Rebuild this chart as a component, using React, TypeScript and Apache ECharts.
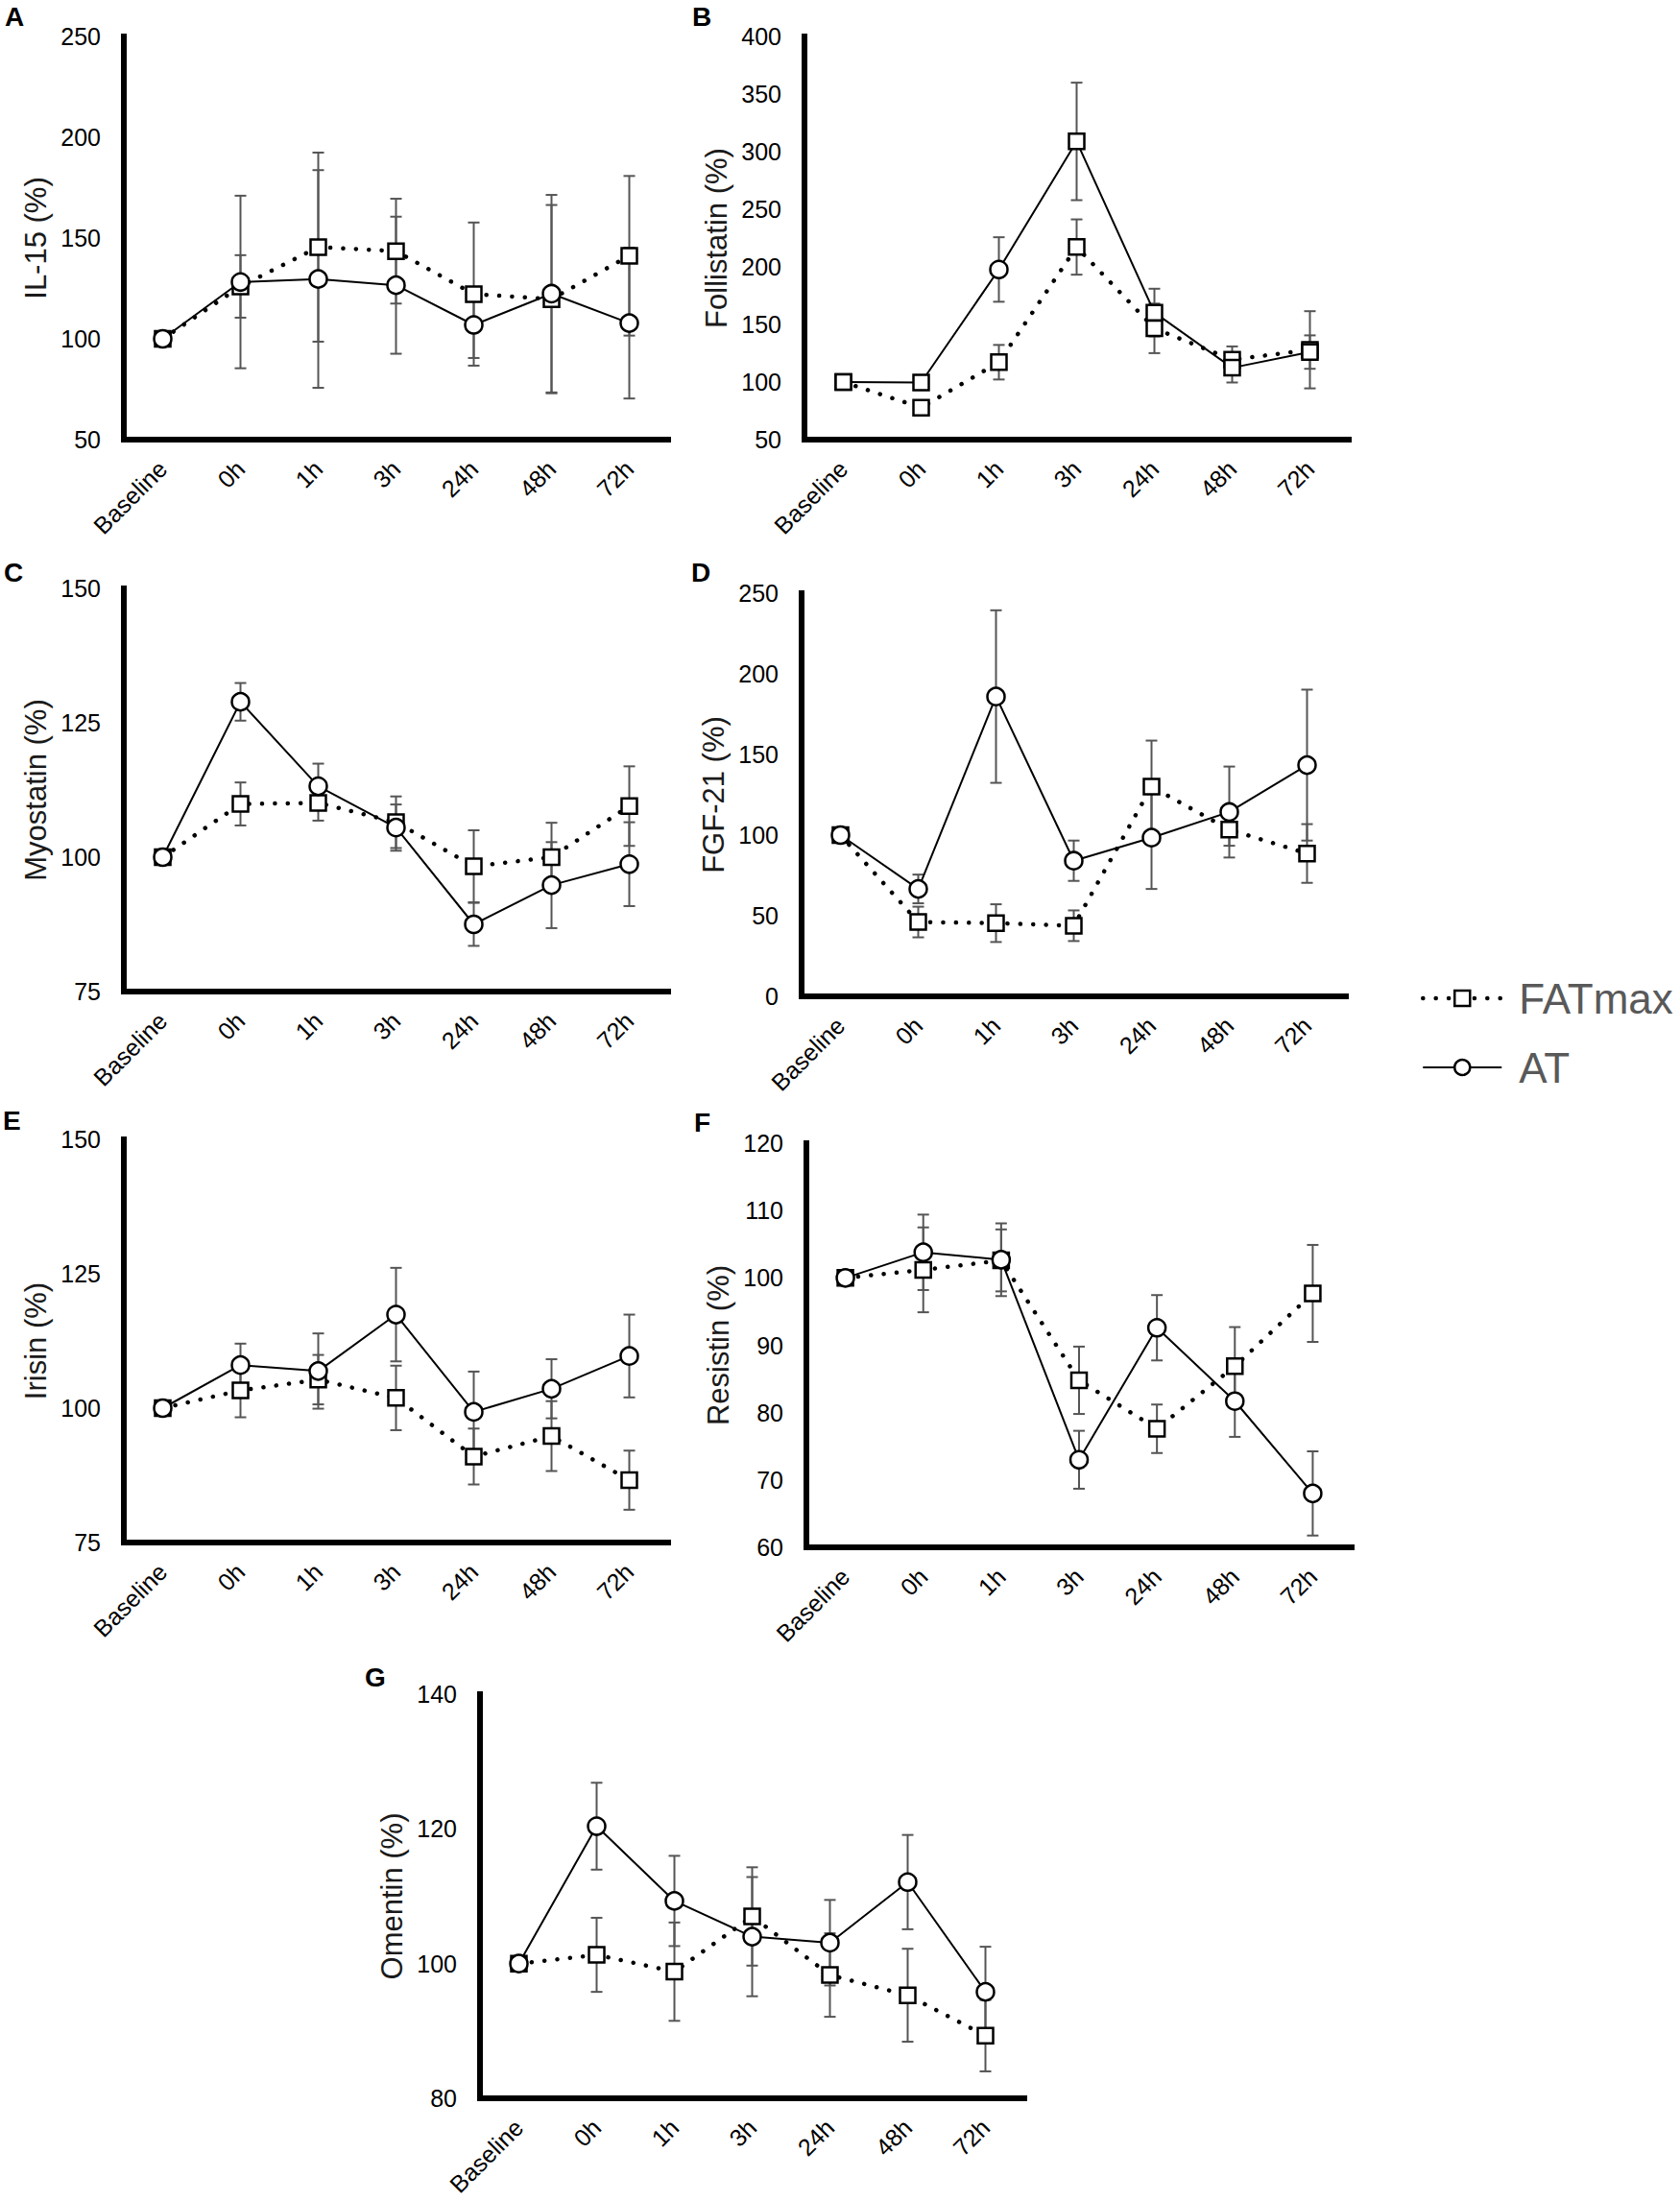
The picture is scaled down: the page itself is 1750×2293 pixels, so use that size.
import React, { useEffect, useRef } from 'react';
import * as echarts from 'echarts';

const categories = ['Baseline', '0h', '1h', '3h', '24h', '48h', '72h'];

// A: IL-15
const il15Fatmax = [100, 126, 145.5, 143.5, 122.2, 119.7, 141.2];
const il15FatmaxSd = [0, 15.5, 46.9, 26, 35.5, 46.7, 39.6];
const il15At = [100, 128.2, 129.7, 126.6, 106.9, 122.4, 107.8];
const il15AtSd = [0, 42.8, 54, 34, 16.4, 49, 37.4];

// B: Follistatin
const follFatmax = [100, 77.8, 117.2, 217.2, 146.6, 119.4, 128];
const follFatmaxSd = [0, 4, 15, 24, 21.5, 11.5, 33.5];
const follAt = [100, 99.6, 197.7, 308.9, 160.3, 112.4, 126];
const follAtSd = [0, 5, 28, 51, 20.7, 12.8, 14.5];
const follAtSymbols = ['rect', 'rect', 'circle', 'rect', 'rect', 'rect', 'rect'];

// C: Myostatin
const myoFatmax = [100, 109.9, 110.1, 106.5, 98.3, 100, 109.5];
const myoFatmaxSd = [0, 4, 3.3, 4.8, 6.7, 6.4, 7.4];
const myoAt = [100, 128.9, 113.2, 105.5, 87.5, 94.8, 98.7];
const myoAtSd = [0, 3.5, 4.2, 4.3, 4, 8, 7.8];

// D: FGF-21
const fgfFatmax = [100, 46.1, 45.4, 43.8, 130, 103.4, 88.6];
const fgfFatmaxSd = [0, 9.5, 11.7, 9.5, 28.6, 10, 18.2];
const fgfAt = [100, 66.6, 185.9, 84.1, 98.4, 114.3, 143.4];
const fgfAtSd = [0, 8.9, 53.5, 12.5, 31.8, 28.2, 46.8];

// E: Irisin
const irisinFatmax = [100, 103.3, 105.3, 101.9, 91, 94.8, 86.6];
const irisinFatmaxSd = [0, 5, 4.6, 6, 5.2, 6.5, 5.5];
const irisinAt = [100, 108, 106.9, 117.4, 99.3, 103.6, 109.7];
const irisinAtSd = [0, 4, 7, 8.7, 7.5, 5.5, 7.7];

// F: Resistin
const resFatmax = [100, 101.2, 102.6, 84.8, 77.6, 86.9, 97.7];
const resFatmaxSd = [0, 6.3, 4.6, 5, 3.6, 5.8, 7.2];
const resAt = [100, 103.8, 102.7, 73, 92.6, 81.7, 68];
const resAtSd = [0, 5.6, 5.4, 4.3, 4.85, 5.3, 6.25];

// G: Omentin
const omFatmax = [100, 101.3, 98.8, 107, 98.3, 95.3, 89.3];
const omFatmaxSd = [0, 5.5, 7.3, 7.3, 6.2, 6.9, 5.3];
const omAt = [100, 120.4, 109.3, 104, 103.1, 112.1, 95.8];
const omAtSd = [0, 6.45, 6.7, 8.85, 6.35, 7, 6.7];

const FONT = '"Liberation Sans", Arial, Helvetica, sans-serif';

type Panel = {
  letter: string;
  title: string;
  min: number;
  max: number;
  interval: number;
  fat: number[];
  fatSd: number[];
  at: number[];
  atSd: number[];
  atSymbols?: string[];
  left: number;
  top: number;
  width: number;
  height: number;
  lx: number;
  ly: number;
};

const panels: Panel[] = [
  { letter: 'A', title: 'IL-15 (%)', min: 50, max: 250, interval: 50, fat: il15Fatmax, fatSd: il15FatmaxSd, at: il15At, atSd: il15AtSd, left: 129, top: 38, width: 567, height: 420, lx: 5, ly: 3 },
  { letter: 'B', title: 'Follistatin (%)', min: 50, max: 400, interval: 50, fat: follFatmax, fatSd: follFatmaxSd, at: follAt, atSd: follAtSd, atSymbols: follAtSymbols, left: 838, top: 38, width: 567, height: 420, lx: 721, ly: 3 },
  { letter: 'C', title: 'Myostatin (%)', min: 75, max: 150, interval: 25, fat: myoFatmax, fatSd: myoFatmaxSd, at: myoAt, atSd: myoAtSd, left: 129, top: 613, width: 567, height: 420, lx: 4, ly: 582 },
  { letter: 'D', title: 'FGF-21 (%)', min: 0, max: 250, interval: 50, fat: fgfFatmax, fatSd: fgfFatmaxSd, at: fgfAt, atSd: fgfAtSd, left: 835, top: 618, width: 567, height: 420, lx: 720, ly: 582 },
  { letter: 'E', title: 'Irisin (%)', min: 75, max: 150, interval: 25, fat: irisinFatmax, fatSd: irisinFatmaxSd, at: irisinAt, atSd: irisinAtSd, left: 129, top: 1187, width: 567, height: 420, lx: 3, ly: 1153 },
  { letter: 'F', title: 'Resistin (%)', min: 60, max: 120, interval: 10, fat: resFatmax, fatSd: resFatmaxSd, at: resAt, atSd: resAtSd, left: 840, top: 1191, width: 568, height: 421, lx: 723, ly: 1155 },
  { letter: 'G', title: 'Omentin (%)', min: 80, max: 140, interval: 20, fat: omFatmax, fatSd: omFatmaxSd, at: omAt, atSd: omAtSd, left: 500, top: 1765, width: 567, height: 421, lx: 380, ly: 1733 },
];

const ERR_COLOR = '#555555';

function errRender(params: any, api: any) {
  const idx = api.value(0);
  const lo = api.coord([idx, api.value(1)]);
  const hi = api.coord([idx, api.value(2)]);
  const cw = 6;
  const style = { stroke: ERR_COLOR, lineWidth: 2 };
  return {
    type: 'group',
    children: [
      { type: 'line', shape: { x1: lo[0], y1: lo[1], x2: hi[0], y2: hi[1] }, style },
      { type: 'line', shape: { x1: lo[0] - cw, y1: lo[1], x2: lo[0] + cw, y2: lo[1] }, style },
      { type: 'line', shape: { x1: hi[0] - cw, y1: hi[1], x2: hi[0] + cw, y2: hi[1] }, style },
    ],
  };
}

function errData(mean: number[], sd: number[]) {
  const out: number[][] = [];
  mean.forEach((m, j) => {
    if (sd[j] > 0) out.push([j, m - sd[j], m + sd[j]]);
  });
  return out;
}

const DOT_LINE = { color: '#000', width: 4.5, type: [0.1, 13.3], cap: 'round' };
const SOLID_LINE = { color: '#000', width: 2, type: 'solid' };
const MARKER_STYLE = { color: '#fff', borderColor: '#000', borderWidth: 2.5 };
const AXIS_LINE = { show: true, lineStyle: { color: '#000', width: 6, cap: 'square' } };

function buildOption() {
  const grid: any[] = [];
  const xAxis: any[] = [];
  const yAxis: any[] = [];
  const series: any[] = [];
  const graphic: any[] = [];

  panels.forEach((p, i) => {
    grid.push({ left: p.left, top: p.top, width: p.width, height: p.height, containLabel: false });
    xAxis.push({
      type: 'category',
      gridIndex: i,
      data: categories,
      boundaryGap: true,
      axisLine: AXIS_LINE,
      axisTick: { show: false },
      splitLine: { show: false },
      axisLabel: { rotate: 45, interval: 0, fontSize: 25, color: '#000', fontFamily: FONT, margin: 26 },
    });
    yAxis.push({
      type: 'value',
      gridIndex: i,
      min: p.min,
      max: p.max,
      interval: p.interval,
      axisLine: AXIS_LINE,
      axisTick: { show: false },
      splitLine: { show: false },
      axisLabel: { fontSize: 25, color: '#000', fontFamily: FONT, margin: 24 },
      name: p.title,
      nameLocation: 'middle',
      nameGap: 76,
      nameTextStyle: { fontSize: 31, color: '#1a1a1a', fontFamily: FONT },
    });
    series.push({
      type: 'custom',
      name: 'FATmax SD',
      xAxisIndex: i,
      yAxisIndex: i,
      renderItem: errRender,
      encode: { x: 0, y: [1, 2] },
      data: errData(p.fat, p.fatSd),
      z: 1,
      silent: true,
    });
    series.push({
      type: 'custom',
      name: 'AT SD',
      xAxisIndex: i,
      yAxisIndex: i,
      renderItem: errRender,
      encode: { x: 0, y: [1, 2] },
      data: errData(p.at, p.atSd),
      z: 1,
      silent: true,
    });
    series.push({
      type: 'line',
      name: 'FATmax',
      xAxisIndex: i,
      yAxisIndex: i,
      data: p.fat,
      symbol: 'rect',
      symbolSize: 16,
      showAllSymbol: true,
      itemStyle: MARKER_STYLE,
      lineStyle: DOT_LINE,
      z: 3,
      silent: true,
    });
    series.push({
      type: 'line',
      name: 'AT',
      xAxisIndex: i,
      yAxisIndex: i,
      data: p.atSymbols
        ? p.at.map((v, j) => ({ value: v, symbol: p.atSymbols![j], symbolSize: p.atSymbols![j] === 'rect' ? 16 : 18 }))
        : p.at,
      symbol: 'circle',
      symbolSize: 18,
      showAllSymbol: true,
      itemStyle: MARKER_STYLE,
      lineStyle: SOLID_LINE,
      z: 4,
      silent: true,
    });
    graphic.push({
      type: 'text',
      x: p.lx,
      y: p.ly,
      style: { text: p.letter, font: `bold 28px ${FONT}`, fill: '#000', textVerticalAlign: 'top' },
    });
  });

  return {
    animation: false,
    backgroundColor: '#fff',
    grid,
    xAxis,
    yAxis,
    series,
    graphic,
    legend: {
      show: true,
      orient: 'vertical',
      left: 1475,
      top: 1013,
      itemWidth: 82,
      itemHeight: 20,
      itemGap: 28,
      selectedMode: false,
      textStyle: { fontSize: 44, color: '#595959', fontFamily: FONT, padding: [0, 0, 0, 13] },
      data: [
        { name: 'FATmax', lineStyle: { width: 4.5, type: [0.1, 13.3], cap: 'round', color: '#000' }, itemStyle: { color: '#fff', borderColor: '#000', borderWidth: 2.5 } },
        { name: 'AT', lineStyle: { width: 2, type: 'solid', color: '#000' }, itemStyle: { color: '#fff', borderColor: '#000', borderWidth: 2.5 } },
      ],
    },
  };
}

export default function App() {
  const ref = useRef<HTMLDivElement>(null);
  useEffect(() => {
    document.body.style.margin = '0';
    const chart = echarts.init(ref.current!, undefined, { renderer: 'svg' });
    chart.setOption(buildOption() as any);
    return () => chart.dispose();
  }, []);
  return (
    <div
      ref={ref}
      style={{ position: 'absolute', left: 0, top: 0, width: 1750, height: 2293, background: '#fff' }}
    />
  );
}
